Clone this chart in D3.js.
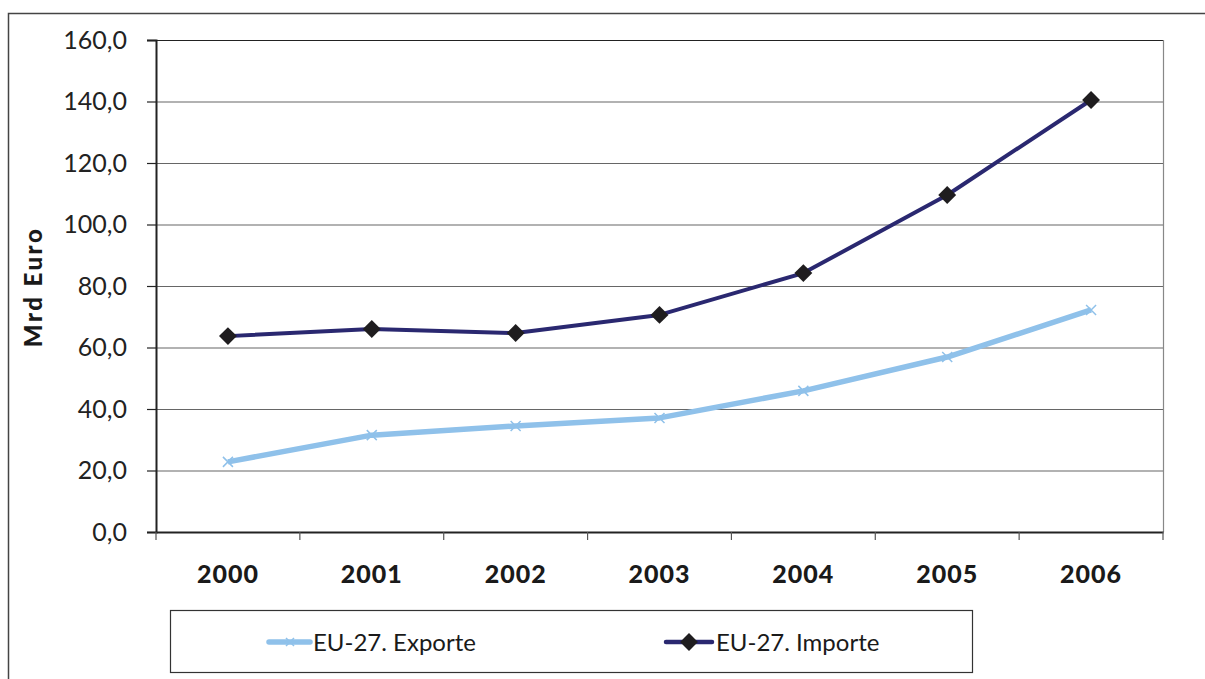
<!DOCTYPE html>
<html><head><meta charset="utf-8">
<script src="https://cdn.jsdelivr.net/npm/d3@7"></script>
<style>body{margin:0;background:#fff}svg{display:block}</style>
</head><body>
<svg id="c" width="1205" height="679"></svg>
<script>
const years = ["2000","2001","2002","2003","2004","2005","2006"];
const exporte = [22.8, 31.5, 34.5, 37.1, 45.9, 56.9, 72.2];
const importe = [63.7, 66.0, 64.7, 70.6, 84.2, 109.6, 140.5];
const yTicks = [0,20,40,60,80,100,120,140,160];
const seriesNames = ["EU-27. Exporte","EU-27. Importe"];

const svg = d3.select("#c");
const font = "Lato, 'DejaVu Sans', sans-serif";
const L=156, R=1163, T=40, B=532;

// outer frame
svg.append("path").attr("d","M8.5,679 V13.5 H1205").attr("fill","none").attr("stroke","#444").attr("stroke-width",1.5);

const x = d3.scaleBand().domain(years).range([L,R]);
const y = d3.scaleLinear().domain([0,160]).range([B,T]);

// gridlines
svg.append("g").selectAll("line").data(yTicks.filter(d=>d>0)).join("line")
  .attr("x1",L).attr("x2",R).attr("y1",d=>y(d)+0.5).attr("y2",d=>y(d)+0.5)
  .attr("stroke",d=>d===160?"#222":"#666").attr("stroke-width",1.2);
// right border
svg.append("line").attr("x1",R+0.5).attr("x2",R+0.5).attr("y1",T).attr("y2",B).attr("stroke","#888").attr("stroke-width",1.2);

// y axis
const fmt = d=>d3.format(".1f")(d).replace(".",",");
const ya = svg.append("g").attr("transform",`translate(${L},0)`)
  .call(d3.axisLeft(y).tickValues(yTicks).tickFormat(fmt).tickSize(9).tickPadding(20));
ya.select(".domain").attr("stroke","#222").attr("stroke-width",2);
ya.selectAll(".tick line").attr("stroke","#222").attr("stroke-width",1.2);
ya.selectAll("text").attr("font-family",font).attr("font-size",25).attr("fill","#222");

// x axis
const xa = svg.append("g").attr("transform",`translate(0,${B})`)
  .call(d3.axisBottom(x).tickSize(0).tickPadding(33));
xa.select(".domain").attr("stroke","#222").attr("stroke-width",2);
xa.selectAll("text").attr("font-family",font).attr("font-weight",900).attr("font-size",25)
  .attr("letter-spacing",1).attr("fill","#1a1a1a");
// category boundary ticks
const bounds = years.map(d=>x(d)).concat([R]);
svg.append("g").selectAll("line").data(bounds).join("line")
  .attr("x1",d=>d).attr("x2",d=>d).attr("y1",B).attr("y2",B+8)
  .attr("stroke","#555").attr("stroke-width",1.2);

// y title
svg.append("text").attr("transform","translate(42,287) rotate(-90)")
  .attr("text-anchor","middle").attr("font-family",font).attr("font-weight",900)
  .attr("font-size",24).attr("letter-spacing",2.5).attr("fill","#1a1a1a").text("Mrd Euro");

const cx = d=>x(d)+x.bandwidth()/2;
const line = d3.line().x((d,i)=>cx(years[i])).y(d=>y(d));

// exports
svg.append("path").datum(exporte).attr("d",line).attr("fill","none")
  .attr("stroke","#8fc1ea").attr("stroke-width",5.5).attr("stroke-linejoin","round");
const xm = (g,px,py,s)=>g.append("path").attr("d",`M${px-s},${py-s}L${px+s},${py+s}M${px-s},${py+s}L${px+s},${py-s}`)
  .attr("stroke","#8fc1ea").attr("stroke-width",1.5).attr("fill","none");
const ex = svg.append("g");
exporte.forEach((v,i)=>xm(ex,cx(years[i]),y(v),5));

// imports
svg.append("path").datum(importe).attr("d",line).attr("fill","none")
  .attr("stroke","#2a2870").attr("stroke-width",4).attr("stroke-linejoin","round");
svg.append("g").selectAll("path").data(importe).join("path")
  .attr("transform",(d,i)=>`translate(${cx(years[i])},${y(d)}) rotate(45)`)
  .attr("d",d3.symbol().type(d3.symbolSquare).size(160)).attr("fill","#1f1d1f");

// legend
svg.append("rect").attr("x",170.5).attr("y",610.5).attr("width",802).attr("height",62)
  .attr("fill","none").attr("stroke","#333").attr("stroke-width",1.2);
const lg = svg.append("g");
lg.append("line").attr("x1",269).attr("x2",310).attr("y1",642).attr("y2",642)
  .attr("stroke","#8fc1ea").attr("stroke-width",5.5).attr("stroke-linecap","round");
xm(lg,290,642,4);
lg.append("text").attr("x",313).attr("y",651).attr("font-family",font).attr("font-size",24)
  .attr("fill","#1a1a1a").text(seriesNames[0]);
lg.append("line").attr("x1",666).attr("x2",712).attr("y1",642).attr("y2",642)
  .attr("stroke","#2a2870").attr("stroke-width",4.5).attr("stroke-linecap","round");
lg.append("path").attr("transform","translate(689,642) rotate(45)")
  .attr("d",d3.symbol().type(d3.symbolSquare).size(160)).attr("fill","#1f1d1f");
lg.append("text").attr("x",716).attr("y",651).attr("font-family",font).attr("font-size",24)
  .attr("fill","#1a1a1a").text(seriesNames[1]);
</script>
</body></html>
